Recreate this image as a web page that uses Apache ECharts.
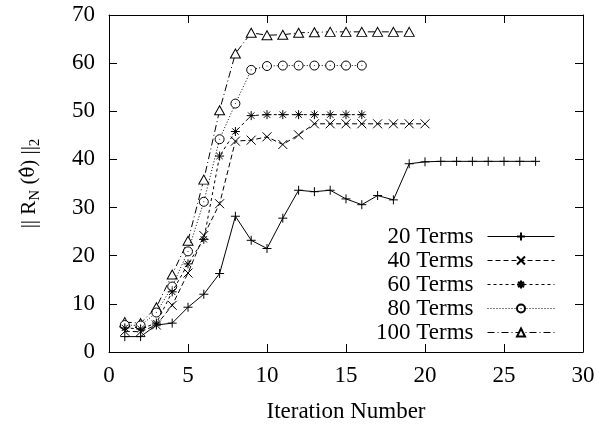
<!DOCTYPE html>
<html>
<head>
<meta charset="utf-8">
<script src="https://cdn.jsdelivr.net/npm/echarts@6/dist/echarts.min.js"></script>
<style>html,body{margin:0;padding:0;background:#fff}#c{width:600px;height:428px}</style>
</head>
<body>
<div id="c"></div>
<script>
var iterations = [1,2,3,4,5,6,7,8,9,10,11,12,13,14,15,16,17,18,19,20,21,22,23,24,25,26,27];
var seriesNames = ['20 Terms','40 Terms','60 Terms','80 Terms','100 Terms'];
var terms20 = [3.2,3.2,5.6,6.0,9.3,12.0,16.3,28.2,23.2,21.5,27.8,33.6,33.3,33.6,31.8,30.6,32.5,31.6,39.1,39.5,39.6,39.6,39.6,39.6,39.6,39.6,39.6];
var terms40 = [4.3,4.2,5.6,9.7,16.4,24.2,30.8,43.8,44.0,44.7,43.1,45.1,47.4,47.4,47.4,47.4,47.4,47.4,47.4,47.4];
var terms60 = [5.0,4.8,6.0,12.5,18.3,23.4,40.7,45.8,49.1,49.3,49.3,49.3,49.3,49.3,49.3,49.3];
var terms80 = [5.6,5.5,8.2,13.6,20.9,31.2,44.2,51.6,58.6,59.4,59.5,59.5,59.5,59.5,59.5,59.5];
var terms100 = [6.2,6.0,9.3,16.1,23.1,35.8,50.2,62.0,66.3,65.8,65.9,66.3,66.4,66.5,66.5,66.5,66.5,66.5,66.5];
var xTicks = [0,5,10,15,20,25,30];
var yTicks = [0,10,20,30,40,50,60,70];

var allValues = [terms20, terms40, terms60, terms80, terms100];
var symbols = [
  'path://M0,5 L10,5 M5,0 L5,10',
  'path://M0,0 L10,10 M0,10 L10,0',
  'path://M0,5 L10,5 M5,0 L5,10 M1.5,1.5 L8.5,8.5 M1.5,8.5 L8.5,1.5',
  'path://M10,5 A5,5 0 1 1 0,5 A5,5 0 1 1 10,5 Z M5,4.6 L5,5.4',
  'path://M5,0 L10,8.66 L0,8.66 Z'
];
var symSizes = [9, 9, 9, 9, [10, 9]];
var dashes = ['solid', [5,3], [3,3], [1,2], [7,3,1,3]];
var FONT = 'Liberation Serif';

function zip(vals){ return vals.map(function(v,i){ return [iterations[i], v]; }); }

var series = allValues.map(function(vals, i){
  return {
    name: seriesNames[i], type: 'line', data: zip(vals),
    symbol: symbols[i], symbolSize: symSizes[i],
    showAllSymbol: true,
    color: '#000',
    lineStyle: { color: '#000', width: 1, type: dashes[i] },
    itemStyle: { color: (i === 3 || i === 4) ? '#fff' : '#000', borderColor: '#000', borderWidth: 1 },
    emphasis: { disabled: true },
    animation: false,
    z: 10 - i
  };
});

var axisCommon = {
  min: 0,
  axisLine: { show: true, onZero: false, lineStyle: { color: '#000', width: 1 } },
  axisTick: { show: true, inside: true, length: 8, lineStyle: { color: '#000', width: 1 } },
  splitLine: { show: false },
  axisLabel: { fontFamily: FONT, fontSize: 23, color: '#000' }
};

var chart = echarts.init(document.getElementById('c'), null, { renderer: 'canvas' });
chart.setOption({
  animation: false,
  backgroundColor: '#fff',
  grid: { left: 109, right: 17, top: 15, bottom: 76 },
  legend: {
    orient: 'vertical', right: 40, top: 220, align: 'right',
    itemWidth: 67, itemHeight: 10, itemGap: 1,
    selectedMode: false,
    lineStyle: { width: 1 },
    textStyle: { fontFamily: FONT, fontSize: 23, lineHeight: 23, color: '#000', width: 104, align: 'right', padding: [0, 9, 0, 0] },
    data: seriesNames
  },
  xAxis: [
    Object.assign({}, axisCommon, {
      type: 'value', max: 30, interval: 5, position: 'bottom',
      axisLabel: Object.assign({}, axisCommon.axisLabel, { margin: 12, formatter: function(v){ return xTicks.indexOf(v) >= 0 ? String(v) : ''; } }),
      name: 'Iteration Number', nameLocation: 'middle', nameGap: 48,
      nameTextStyle: { fontFamily: FONT, fontSize: 23, color: '#000' }
    }),
    Object.assign({}, axisCommon, {
      type: 'value', max: 30, interval: 5, position: 'top',
      axisLabel: { show: false }
    })
  ],
  yAxis: [
    Object.assign({}, axisCommon, {
      type: 'value', max: 70, interval: 10, position: 'left',
      axisLabel: Object.assign({}, axisCommon.axisLabel, { margin: 14, formatter: function(v){ return yTicks.indexOf(v) >= 0 ? String(v) : ''; } }),
      name: '{m||| R}{s|N}{m| (}{t|θ̂}{m|) ||}{s|2}',
      nameLocation: 'middle', nameGap: 66, nameRotate: 90,
      nameTextStyle: {
        fontFamily: FONT, color: '#000',
        rich: {
          m: { fontFamily: FONT, fontSize: 21, lineHeight: 28, color: '#000' },
          t: { fontFamily: 'DejaVu Serif', fontSize: 18, lineHeight: 28, color: '#000' },
          s: { fontFamily: FONT, fontSize: 15, lineHeight: 15, verticalAlign: 'bottom', color: '#000' }
        }
      }
    }),
    Object.assign({}, axisCommon, {
      type: 'value', max: 70, interval: 10, position: 'right',
      axisLabel: { show: false }
    })
  ],
  series: series
});
</script>
</body>
</html>
